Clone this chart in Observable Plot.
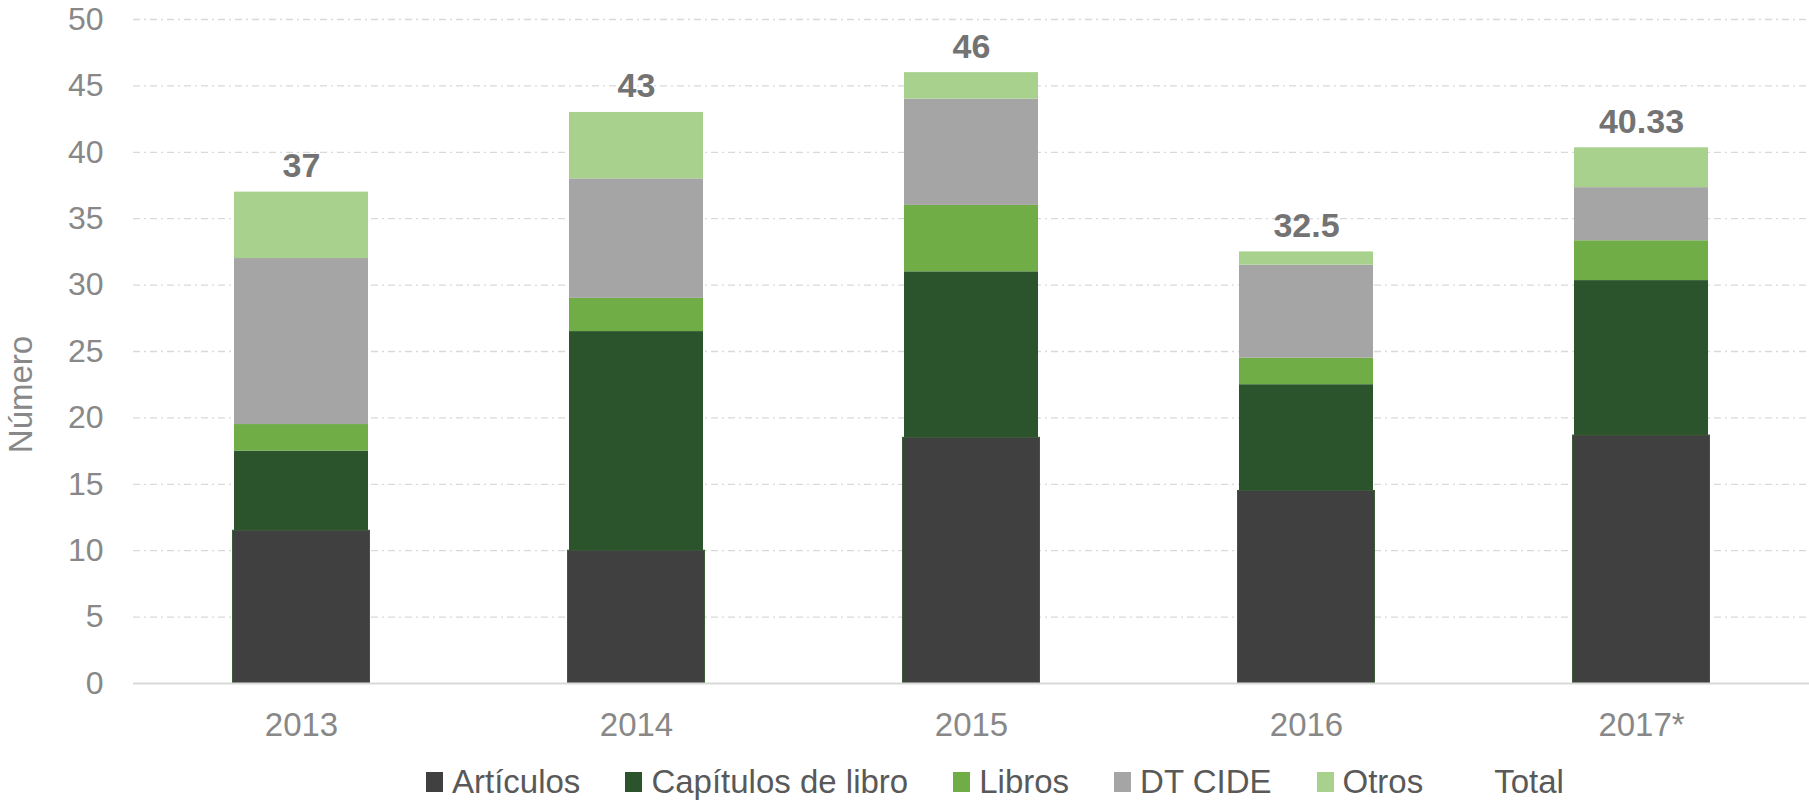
<!DOCTYPE html>
<html>
<head>
<meta charset="utf-8">
<script src="https://cdn.jsdelivr.net/npm/d3@7"></script>
<script src="https://cdn.jsdelivr.net/npm/@observablehq/plot@0.6"></script>
<style>
  html, body { margin: 0; padding: 0; background: #fff; overflow: hidden; }
  body { width: 1809px; height: 802px; font-family: "Liberation Sans", Arial, sans-serif; }
  #chart svg { display: block; }
  #legend { display: flex; align-items: center; height: 52px; padding-top: 12px; padding-left: 426px; box-sizing: border-box;
            font-size: 33px; color: #595959; line-height: 40px; }
  .item { display: flex; align-items: center; margin-right: 45px; }
  .sw { width: 17px; height: 20px; margin-right: 9px; }
</style>
</head>
<body>
<div id="chart"></div>
<div id="legend"></div>
<script>
const years = ["2013", "2014", "2015", "2016", "2017*"];
const categories = ["Artículos", "Capítulos de libro", "Libros", "DT CIDE", "Otros"];
const colors = ["#404040", "#2b542c", "#70ad47", "#a5a5a5", "#a9d18e"];
const articulos = [11.5, 10, 18.5, 14.5, 18.67];
const capitulos = [6, 16.5, 12.5, 8, 11.67];
const libros = [2, 2.5, 5, 2, 3];
const dtcide = [12.5, 9, 8, 7, 4];
const otros = [5, 5, 2, 1, 3];
const totals = [37, 43, 46, 32.5, 40.33];
const yTicks = [0, 5, 10, 15, 20, 25, 30, 35, 40, 45, 50];

const series = [articulos, capitulos, libros, dtcide, otros];
const rows = [];
years.forEach((yr, i) => {
  categories.forEach((c, j) => rows.push({year: yr, cat: c, value: series[j][i]}));
});
const totalRows = years.map((yr, i) => ({year: yr, total: totals[i], label: String(totals[i])}));
const artRows = years.map((yr, i) => ({year: yr, value: articulos[i]}));

const plot = Plot.plot({
  width: 1809,
  height: 750,
  marginLeft: 133,
  marginRight: 0,
  marginTop: 19,
  marginBottom: 67,
  style: {fontFamily: "'Liberation Sans', Arial, sans-serif", background: "#fff", overflow: "visible"},
  x: {domain: years, paddingInner: 0.6, paddingOuter: 0.3, label: null},
  y: {domain: [0, 50], label: null},
  color: {domain: categories, range: colors},
  marks: [
    Plot.gridY(yTicks.filter(t => t > 0), {stroke: "#d9d9d9", strokeOpacity: 1, strokeWidth: 1.3, strokeDasharray: "7,4,2,4"}),
    Plot.barY(rows, Plot.stackY({x: "year", y: "value", fill: "cat", order: categories})),
    Plot.barY(artRows, {x: "year", y: "value", fill: colors[0], stroke: "#3b5a36", strokeWidth: 1, insetLeft: -1.5, insetRight: -1.5}),
    Plot.ruleY([0], {stroke: "#d9d9d9", strokeWidth: 2}),
    Plot.text(totalRows, {x: "year", y: "total", text: "label", dy: -15, lineAnchor: "bottom",
      fontSize: 34, fontWeight: "bold", fill: "#737373"}),
    Plot.axisY({ticks: yTicks, tickSize: 0, tickPadding: 30, fontSize: 32, color: "#888888", label: null}),
    Plot.axisX({tickSize: 0, tickPadding: 29, fontSize: 33, color: "#888888", label: null}),
    Plot.text(["Número"], {frameAnchor: "left", textAnchor: "middle", dx: -112, dy: 43, rotate: -90, fontSize: 33, fill: "#888888"})
  ]
});
document.getElementById("chart").appendChild(plot);

const legendItems = categories.concat(["Total"]);
const legendColors = colors.concat(["transparent"]);
const legend = document.getElementById("legend");
legendItems.forEach((name, i) => {
  const it = document.createElement("div");
  it.className = "item";
  const sw = document.createElement("div");
  sw.className = "sw";
  sw.style.background = legendColors[i];
  const tx = document.createElement("span");
  tx.textContent = name;
  it.appendChild(sw);
  it.appendChild(tx);
  legend.appendChild(it);
});
</script>
</body>
</html>
